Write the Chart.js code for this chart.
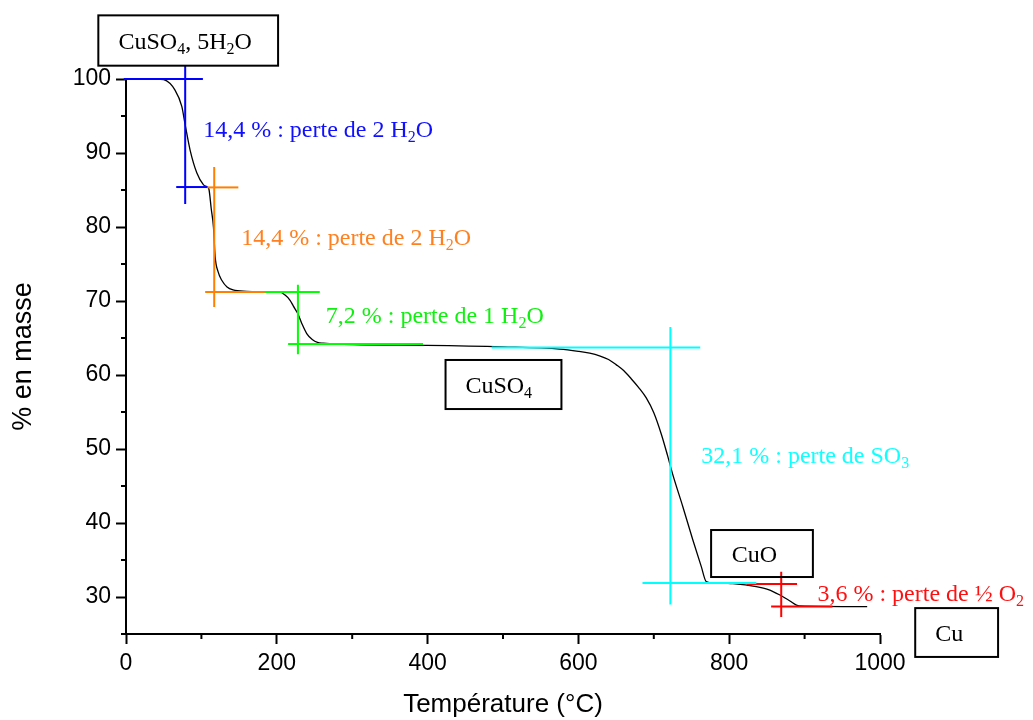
<!DOCTYPE html>
<html>
<head>
<meta charset="utf-8">
<script src="https://cdn.jsdelivr.net/npm/chart.js@4.4.1/dist/chart.umd.min.js"></script>
<style>
  html, body { margin: 0; padding: 0; background: #fff; }
  #wrap { width: 1033px; height: 720px; position: relative; }
</style>
</head>
<body>
<div id="wrap"><canvas id="myChart"></canvas></div>
<script>
// courbe ATG de CuSO4, 5H2O
const temperature = [20, 40, 50, 65, 74, 78.5, 85, 94, 102.8, 108, 110, 113, 116, 118.2, 122, 127, 134, 142, 160, 190, 204, 211, 217.6, 222, 227.8, 233, 239.7, 247, 254, 261.7, 300, 399, 500, 575, 600, 615, 628, 640, 650, 660, 670, 680, 690, 700, 710, 718, 725, 738.5, 751.8, 763, 769.5, 780, 804.8, 835.8, 852, 866.6, 880, 893, 983];
const masse = [100, 100, 99.9, 98.5, 96.3, 93.8, 90.4, 87.3, 85.7, 85.4, 85.1, 82.5, 80, 76, 74, 72.8, 71.9, 71.5, 71.3, 71.2, 71.2, 70.8, 70.1, 69.3, 68.3, 67, 65.6, 64.8, 64.4, 64.3, 64.1, 64.0, 63.8, 63.5, 63.2, 62.95, 62.6, 62.1, 61.4, 60.6, 59.5, 58.3, 56.9, 54.9, 52.0, 49.2, 46.6, 42.2, 37.7, 34.1, 32.1, 31.9, 31.8, 31.4, 31.0, 30.3, 29.5, 28.8, 28.7];

const xTicks = [0, 200, 400, 600, 800, 1000];
const xMinor = [100, 300, 500, 700, 900];
const yTicks = [30, 40, 50, 60, 70, 80, 90, 100];
const yMinor = [25, 35, 45, 55, 65, 75, 85, 95];

// croix des pertes : segments [T1, m1, T2, m2]
const crossBlue = [[-3, 100, 102, 100], [78.5, 101.8, 78.5, 83.1], [66.6, 85.4, 107.7, 85.4]];
const crossOrange = [[107.7, 85.35, 149, 85.35], [117, 88.1, 117, 69.2], [105, 71.2, 184, 71.2]];
const crossGreen = [[178, 71.2, 257, 71.2], [228, 72.2, 228, 62.8], [215, 64.2, 394, 64.2]];
const crossCyan = [[485, 63.7, 761.6, 63.7], [722, 66.5, 722, 29], [685, 31.9, 836, 31.9]];
const crossRed = [[823, 31.75, 890, 31.75], [869, 33.4, 869, 27.3], [855.6, 28.7, 937, 28.7]];

const pertes = [
  {text: '14,4 % : perte de 2 H_2O', color: '#1010ff', at: [102.4, 92.2]},
  {text: '14,4 % : perte de 2 H_2O', color: '#ff8020', at: [152.7, 77.6]},
  {text: '7,2 % : perte de 1 H_2O', color: '#10f010', at: [265, 67.0]},
  {text: '32,1 % : perte de SO_3', color: '#10ffff', at: [762.9, 48.07]},
  {text: '3,6 % : perte de ½ O_2', color: '#ff1010', at: [917, 29.5]}
];

const especes = [
  {text: 'CuSO_4, 5H_2O', box: [-36.7, 108.6, 201.7, 101.8], at: [78.5, 104.0]},
  {text: 'CuSO_4', box: [423.8, 62.03, 577.5, 55.4], at: [494.4, 57.57]},
  {text: 'CuO', box: [776, 39.05, 911, 32.7], at: [833.5, 34.77]},
  {text: 'Cu', box: [1046.7, 28.5, 1156.6, 21.9], at: [1091.8, 24.1]}
];

const SANS = '"Liberation Sans", Arial, sans-serif';
const SERIF = '"Liberation Serif", "Times New Roman", serif';

function drawRich(ctx, str, x, y, align) {
  let parts = [];
  for (let i = 0; i < str.length; i++) {
    if (str[i] == '_') { parts.push({t: str[i + 1], sub: true}); i++; }
    else if (parts.length && !parts[parts.length - 1].sub) parts[parts.length - 1].t += str[i];
    else parts.push({t: str[i], sub: false});
  }
  let w = 0;
  parts.forEach(p => {
    ctx.font = (p.sub ? '16px ' : '24px ') + SERIF;
    p.w = ctx.measureText(p.t).width;
    w += p.w;
  });
  let cx = align == 'center' ? x - w / 2 : x;
  ctx.textBaseline = 'alphabetic';
  ctx.textAlign = 'left';
  parts.forEach(p => {
    ctx.font = (p.sub ? '16px ' : '24px ') + SERIF;
    ctx.fillText(p.t, cx, p.sub ? y + 5 : y);
    cx += p.w;
  });
}

const minorTicks = {
  id: 'minorTicks',
  afterDraw(chart) {
    const {ctx, scales: {x, y}, chartArea} = chart;
    ctx.save();
    ctx.strokeStyle = '#000';
    ctx.lineWidth = 2;
    xMinor.forEach(v => {
      const px = x.getPixelForValue(v);
      ctx.beginPath(); ctx.moveTo(px, chartArea.bottom); ctx.lineTo(px, chartArea.bottom + 5); ctx.stroke();
    });
    yMinor.forEach(v => {
      const py = y.getPixelForValue(v);
      ctx.beginPath(); ctx.moveTo(chartArea.left, py); ctx.lineTo(chartArea.left - 5, py); ctx.stroke();
    });
    ctx.restore();
  }
};

const annotations = {
  id: 'annotations',
  afterDatasetsDraw(chart) {
    const {ctx, scales: {x, y}} = chart;
    ctx.save();
    especes.forEach(e => {
      const x1 = x.getPixelForValue(e.box[0]), y1 = y.getPixelForValue(e.box[1]);
      const x2 = x.getPixelForValue(e.box[2]), y2 = y.getPixelForValue(e.box[3]);
      ctx.strokeStyle = '#000';
      ctx.lineWidth = 2;
      ctx.strokeRect(x1, y1, x2 - x1, y2 - y1);
      ctx.fillStyle = '#000';
      drawRich(ctx, e.text, x.getPixelForValue(e.at[0]), y.getPixelForValue(e.at[1]), 'center');
    });
    pertes.forEach(p => {
      ctx.fillStyle = p.color;
      drawRich(ctx, p.text, x.getPixelForValue(p.at[0]), y.getPixelForValue(p.at[1]), 'left');
    });
    ctx.restore();
  }
};

let datasets = [];
[[crossBlue, '#0000ff'], [crossOrange, '#ff8000'], [crossGreen, '#00ff00'], [crossCyan, '#00ffff'], [crossRed, '#ff0000']].forEach(c => {
  c[0].forEach(s => {
    datasets.push({
      data: [{x: s[0], y: s[1]}, {x: s[2], y: s[3]}],
      borderColor: c[1],
      borderWidth: 2,
      pointRadius: 0,
      clip: false
    });
  });
});
datasets.push({
  data: temperature.map((t, i) => ({x: t, y: masse[i]})),
  borderColor: '#000',
  borderWidth: 1.3,
  pointRadius: 0,
  cubicInterpolationMode: 'monotone'
});

const myChart = new Chart(document.getElementById('myChart'), {
  type: 'line',
  data: {datasets: datasets},
  options: {
    responsive: true,
    maintainAspectRatio: false,
    animation: false,
    layout: {padding: {top: 79, right: 153, left: 0, bottom: 0}},
    plugins: {legend: {display: false}, tooltip: {enabled: false}},
    scales: {
      x: {
        type: 'linear',
        min: 0,
        max: 1000,
        afterBuildTicks: s => { s.ticks = xTicks.map(v => ({value: v})); },
        afterFit: s => { s.height = 86; },
        ticks: {color: '#000', font: {family: SANS, size: 23}, padding: 6, maxRotation: 0, autoSkip: false, callback: v => String(v)},
        grid: {drawOnChartArea: false, tickLength: 10, tickColor: '#000', tickWidth: 2},
        border: {color: '#000', width: 2},
        title: {display: true, text: 'Température (°C)', color: '#000', font: {family: SANS, size: 26}, padding: {top: 0, bottom: 0}}
      },
      y: {
        min: 25,
        max: 100,
        afterBuildTicks: s => { s.ticks = yTicks.map(v => ({value: v})); },
        afterFit: s => { s.width = 126; },
        ticks: {color: '#000', font: {family: SANS, size: 23}, padding: 5, autoSkip: false},
        grid: {drawOnChartArea: false, tickLength: 10, tickColor: '#000', tickWidth: 2},
        border: {color: '#000', width: 2},
        title: {display: true, text: '% en masse', color: '#000', font: {family: SANS, size: 27}, padding: {top: 7, bottom: 0}}
      }
    }
  },
  plugins: [minorTicks, annotations]
});
</script>
</body>
</html>
